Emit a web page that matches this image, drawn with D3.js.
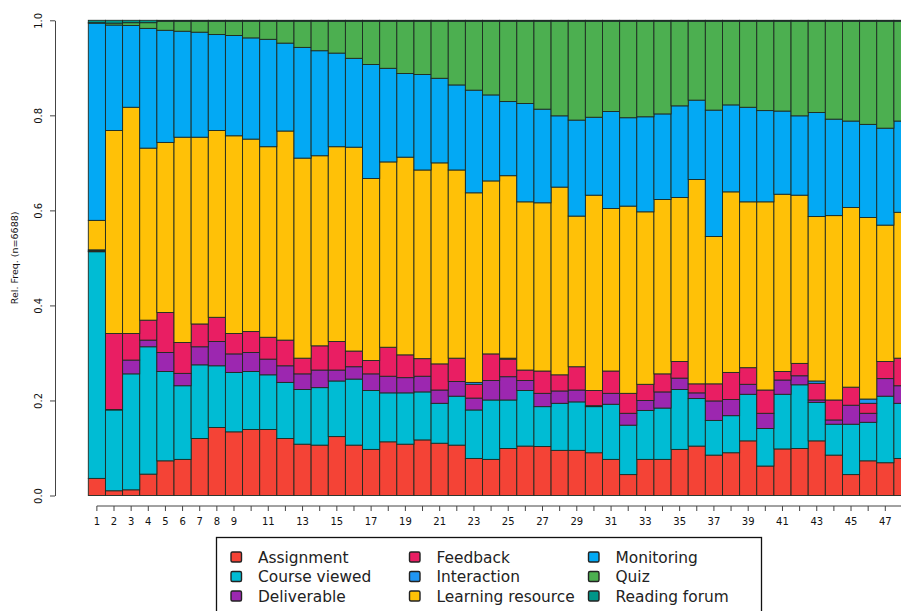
<!DOCTYPE html>
<html>
<head>
<meta charset="utf-8">
<script src="https://cdn.jsdelivr.net/npm/d3@7"></script>
<style>
  html, body { margin: 0; padding: 0; background: #fff; }
  svg { display: block; font-family: "DejaVu Sans", sans-serif; }
</style>
</head>
<body>
<svg id="chart" width="901" height="611"></svg>
<script>
// ---- data (relative frequencies per position) ----
const positions = d3.range(1, 49);
const states = ["Assignment", "Course viewed", "Deliverable", "Feedback", "Interaction",
                "Learning resource", "Monitoring", "Quiz", "Reading forum"];
const stateColors = ["#F44336", "#00BCD4", "#9C27B0", "#E91E63", "#2196F3",
                     "#FFC107", "#03A9F4", "#4CAF50", "#009688"];
const xTickLabels = [1, 2, 3, 4, 5, 6, 7, 8, 9, 11, 13, 15, 17, 19, 21, 23, 25, 27, 29,
                     31, 33, 35, 37, 39, 41, 43, 45, 47];
const yTicks = [0, 0.2, 0.4, 0.6, 0.8, 1.0];
const yTitle = "Rel. Freq. (n=6688)";

const assignment = [.036,.010,.012,.045,.073,.076,.120,.143,.134,.139,.139,.120,.108,.106,.124,.106,
  .097,.113,.108,.117,.110,.106,.078,.076,.099,.104,.103,.095,.095,.090,.076,.044,.076,.076,.097,.104,
  .085,.090,.115,.062,.098,.099,.115,.085,.044,.073,.069,.078];
const courseViewed = [.477,.170,.244,.268,.188,.155,.155,.130,.125,.122,.115,.118,.115,.121,.117,.139,
  .124,.103,.108,.101,.084,.103,.102,.125,.102,.117,.084,.099,.102,.097,.116,.104,.103,.108,.126,.100,
  .073,.078,.098,.079,.115,.134,.081,.065,.106,.081,.140,.116];
const deliverable = [.001,.001,.029,.014,.040,.026,.038,.051,.039,.040,.033,.035,.033,.037,.023,.026,
  .035,.035,.032,.033,.028,.031,.025,.041,.049,.021,.028,.026,.025,.002,.023,.025,.021,.034,.024,.012,
  .041,.034,.021,.032,.030,.019,.005,.009,.040,.019,.037,.037];
const feedback = [.001,.160,.056,.042,.084,.065,.048,.051,.043,.044,.046,.054,.033,.051,.060,.033,
  .028,.061,.048,.037,.055,.049,.029,.056,.037,.022,.047,.034,.049,.032,.047,.042,.034,.038,.035,.019,
  .036,.057,.035,.049,.018,.026,.035,.042,.038,.021,.036,.058];
const interaction = [.002,0,0,0,0,0,0,0,0,0,0,0,0,0,0,0,
  0,0,0,0,0,0,.004,0,.002,0,0,0,0,0,0,0,0,0,0,0,
  0,0,0,0,0,0,.005,0,0,.009,0,0];
const learningResource = [.062,.427,.476,.362,.358,.432,.393,.393,.416,.405,.401,.440,.421,.400,.410,.429,
  .383,.390,.416,.397,.423,.396,.399,.364,.384,.354,.354,.395,.317,.411,.342,.394,.363,.367,.345,.430,
  .310,.380,.349,.396,.373,.354,.346,.388,.378,.382,.287,.307];
const monitoring = [.415,.222,.172,.252,.236,.223,.221,.202,.211,.213,.226,.185,.233,.221,.197,.187,
  .240,.197,.176,.201,.178,.179,.216,.181,.156,.207,.197,.150,.202,.164,.204,.186,.200,.180,.193,.167,
  .266,.183,.199,.192,.175,.167,.219,.203,.182,.196,.204,.192];
const quiz = [.001,.004,.006,.012,.019,.021,.023,.028,.030,.035,.038,.046,.055,.062,.067,.078,
  .091,.099,.110,.112,.120,.134,.145,.155,.169,.173,.185,.199,.208,.202,.190,.203,.201,.195,.178,.166,
  .187,.176,.181,.188,.189,.199,.192,.206,.210,.217,.225,.210];
const readingForum = [.005,.006,.005,.005,.002,.002,.002,.002,.002,.002,.002,.002,.002,.002,.002,.002,
  .002,.002,.002,.002,.002,.002,.002,.002,.002,.002,.002,.002,.002,.002,.002,.002,.002,.002,.002,.002,
  .002,.002,.002,.002,.002,.002,.002,.002,.002,.002,.002,.002];

const seriesArrays = [assignment, courseViewed, deliverable, feedback, interaction,
                      learningResource, monitoring, quiz, readingForum];

// ---- build table ----
const table = positions.map((p, i) => {
  const row = { pos: p };
  states.forEach((s, k) => row[s] = seriesArrays[k][i]);
  return row;
});

const svg = d3.select("#chart");

const plotLeft = 88.3, barW = 17.14;
const x = d3.scaleBand().domain(positions).range([plotLeft, plotLeft + positions.length * barW]).padding(0);
const y = d3.scaleLinear().domain([0, 1]).range([495.5, 20.3]);
const color = d3.scaleOrdinal().domain(states).range(stateColors);

const stacked = d3.stack().keys(states).offset(d3.stackOffsetExpand)(table);

svg.append("g").selectAll("g")
  .data(stacked).join("g")
  .attr("fill", d => color(d.key))
  .selectAll("rect")
  .data(d => d).join("rect")
  .attr("x", d => x(d.data.pos))
  .attr("width", x.bandwidth())
  .attr("y", d => y(d[1]))
  .attr("height", d => Math.max(0, y(d[0]) - y(d[1])))
  .attr("stroke", "#1e2a22")
  .attr("stroke-width", 0.9);

// ---- x axis ----
const xAxisY = 506;
const xAxis = d3.axisBottom(x)
  .tickValues(positions)
  .tickFormat(d => xTickLabels.includes(d) ? d : "")
  .tickSize(5).tickSizeOuter(0).tickPadding(7);
const gx = svg.append("g").attr("transform", `translate(0,${xAxisY})`).call(xAxis);
gx.select(".domain").remove();
gx.append("line")
  .attr("x1", x(positions[0]) + x.bandwidth() / 2)
  .attr("x2", x(positions[positions.length - 1]) + x.bandwidth() / 2)
  .attr("stroke", "#444").attr("stroke-width", 1);
gx.selectAll(".tick line").attr("stroke", "#444");
gx.selectAll(".tick text").attr("fill", "#111").style("font-size", "10px")
  .style("font-family", "DejaVu Sans");

// ---- y axis ----
const yAxisX = 55;
const yAxis = d3.axisLeft(y).tickValues(yTicks).tickFormat(d3.format(".1f"))
  .tickSize(5).tickSizeOuter(0);
const gy = svg.append("g").attr("transform", `translate(${yAxisX},0)`).call(yAxis);
gy.select(".domain").attr("stroke", "#444");
gy.selectAll(".tick line").attr("stroke", "#444");
gy.selectAll(".tick text")
  .attr("x", null).attr("dy", null)
  .attr("text-anchor", "middle")
  .attr("transform", "translate(-13.5,0) rotate(-90)")
  .attr("fill", "#111").style("font-size", "10px").style("font-family", "DejaVu Sans");

svg.append("text")
  .attr("transform", `translate(18,${y(0.5)}) rotate(-90)`)
  .attr("text-anchor", "middle")
  .attr("fill", "#111")
  .style("font-size", "9.5px")
  .text(yTitle);

// ---- legend ----
const legend = svg.append("g");
legend.append("rect")
  .attr("x", 216.5).attr("y", 537.5).attr("width", 545).attr("height", 90)
  .attr("fill", "none").attr("stroke", "#111").attr("stroke-width", 1.3);
const colX = [231, 409.5, 588.5];
const rowY = [557, 576.5, 596];
states.forEach((s, k) => {
  const c = Math.floor(k / 3), r = k % 3;
  const g = legend.append("g");
  g.append("rect")
    .attr("x", colX[c]).attr("y", rowY[r] - 5)
    .attr("width", 10.5).attr("height", 10)
    .attr("rx", 1.5)
    .attr("fill", color(s)).attr("stroke", "#222").attr("stroke-width", 1.4);
  g.append("text")
    .attr("x", colX[c] + 27).attr("y", rowY[r])
    .attr("dy", "0.36em")
    .attr("fill", "#222")
    .style("font-size", "15.4px")
    .text(s);
});
</script>
</body>
</html>
